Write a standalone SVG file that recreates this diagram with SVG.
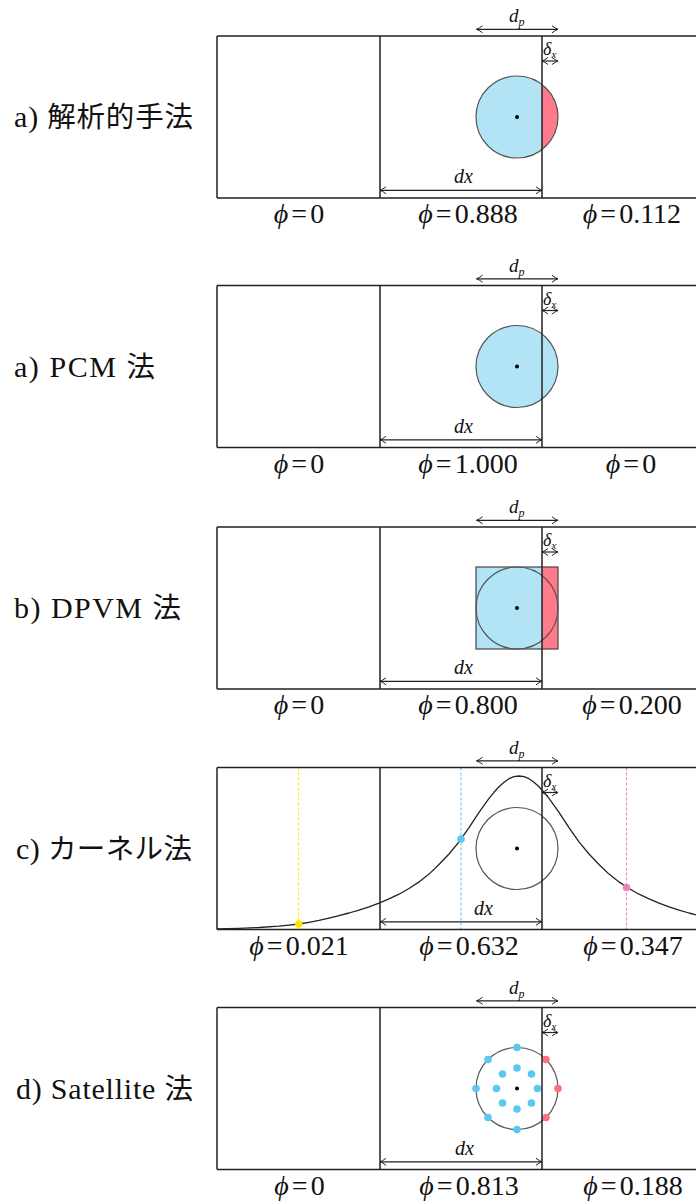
<svg xmlns="http://www.w3.org/2000/svg" width="696" height="1202" viewBox="0 0 696 1202">
<defs>
<style>
.box{fill:none;stroke:#222;stroke-width:1.5}
.circ{fill:none;stroke:#555;stroke-width:1.2}
.dim{fill:none;stroke:#222;stroke-width:1.2;marker-start:url(#ah);marker-end:url(#ah)}
.lbl{font-family:"Liberation Serif","Noto Sans CJK JP",serif;font-size:28.5px;fill:#111}
.lat{font-size:30px}
.phi{font-family:"Liberation Serif","DejaVu Serif",serif;font-size:28px;fill:#111;text-anchor:middle}
.it{font-style:italic}
.math{font-family:"Liberation Serif","DejaVu Serif",serif;font-style:italic;fill:#111}
.dxl{font-size:20px}
.blue{fill:#b2e4f6}
.red{fill:#ff7a8a}
.ctr{fill:#000}
.sb{fill:#5cc8ef}
.sr{fill:#ff6f82}
</style>
<marker id="ah" viewBox="-8 -5 10 10" refX="0" refY="0" markerWidth="10" markerHeight="10" markerUnits="userSpaceOnUse" orient="auto-start-reverse">
<path d="M-6,-3.5 Q-2.5,-0.8 0,0 Q-2.5,0.8 -6,3.5" fill="none" stroke="#222" stroke-width="1"/>
</marker>
<g id="dims">
<line class="dim" x1="476.5" y1="-6.7" x2="558" y2="-6.7"/>
<text class="math" x="509" y="-14" font-size="19">d<tspan font-size="12" dy="4">p</tspan></text>
<line class="dim" x1="542" y1="25" x2="558" y2="25"/>
<text class="math" x="543" y="19" font-size="18">δ<tspan font-size="11" dy="3">x</tspan></text>
</g>
<path id="frame" class="box" d="M217,0 H696 M217,162 H696 M217,0 V162 M380,0 V162 M542,0 V162"/>
</defs>

<!-- a) analytic -->
<g id="panel-analytic" transform="translate(0,36)">
<text class="lbl" x="14" y="91" textLength="179"><tspan class="lat">a) </tspan>解析的手法</text>
<path class="blue" d="M542,48.5 A41,41 0 1 0 542,113.5 Z"/>
<path class="red" d="M542,48.5 A41,41 0 0 1 542,113.5 Z"/>
<circle class="circ" cx="517" cy="81" r="41"/>
<circle class="ctr" cx="517" cy="81" r="2"/>
<use href="#frame"/>
<use href="#dims"/>
<line class="dim" x1="380" y1="154.3" x2="542" y2="154.3"/>
<text class="math dxl" x="454" y="147">dx</text>
<text class="phi" x="299" y="187"><tspan class="it">ϕ</tspan><tspan dx="3">=</tspan><tspan dx="3">0</tspan></text>
<text class="phi" x="468" y="187"><tspan class="it">ϕ</tspan><tspan dx="3">=</tspan><tspan dx="3">0.888</tspan></text>
<text class="phi" x="632" y="187"><tspan class="it">ϕ</tspan><tspan dx="3">=</tspan><tspan dx="3">0.112</tspan></text>
</g>

<!-- a) PCM -->
<g id="panel-pcm" transform="translate(0,285.5)">
<text class="lbl" x="14" y="91" textLength="141"><tspan class="lat">a) PCM </tspan>法</text>
<circle class="blue" cx="517" cy="81" r="41"/>
<circle class="circ" cx="517" cy="81" r="41"/>
<circle class="ctr" cx="517" cy="81" r="2"/>
<use href="#frame"/>
<use href="#dims"/>
<line class="dim" x1="380" y1="154.3" x2="542" y2="154.3"/>
<text class="math dxl" x="454" y="147">dx</text>
<text class="phi" x="299" y="187"><tspan class="it">ϕ</tspan><tspan dx="3">=</tspan><tspan dx="3">0</tspan></text>
<text class="phi" x="468" y="187"><tspan class="it">ϕ</tspan><tspan dx="3">=</tspan><tspan dx="3">1.000</tspan></text>
<text class="phi" x="631" y="187"><tspan class="it">ϕ</tspan><tspan dx="3">=</tspan><tspan dx="3">0</tspan></text>
</g>

<!-- b) DPVM -->
<g id="panel-dpvm" transform="translate(0,527)">
<text class="lbl" x="14" y="91" textLength="167"><tspan class="lat">b) DPVM </tspan>法</text>
<rect class="blue" x="476" y="40" width="66" height="82"/>
<rect class="red" x="542" y="40" width="16" height="82"/>
<rect x="476" y="40" width="82" height="82" fill="none" stroke="#444" stroke-width="1.2"/>
<circle class="circ" cx="517" cy="81" r="41"/>
<circle class="ctr" cx="517" cy="81" r="2"/>
<use href="#frame"/>
<use href="#dims"/>
<line class="dim" x1="380" y1="154.3" x2="542" y2="154.3"/>
<text class="math dxl" x="454" y="147">dx</text>
<text class="phi" x="299" y="187"><tspan class="it">ϕ</tspan><tspan dx="3">=</tspan><tspan dx="3">0</tspan></text>
<text class="phi" x="468" y="187"><tspan class="it">ϕ</tspan><tspan dx="3">=</tspan><tspan dx="3">0.800</tspan></text>
<text class="phi" x="632" y="187"><tspan class="it">ϕ</tspan><tspan dx="3">=</tspan><tspan dx="3">0.200</tspan></text>
</g>

<!-- c) kernel -->
<g id="panel-kernel" transform="translate(0,767.5)">
<text class="lbl" x="16" y="91" textLength="176"><tspan class="lat">c) </tspan>カーネル法</text>
<line x1="298.7" y1="0" x2="298.7" y2="162" stroke="#ffe600" stroke-width="1" stroke-dasharray="3,2"/>
<line x1="461" y1="0" x2="461" y2="162" stroke="#5cc8ef" stroke-width="1" stroke-dasharray="3,2"/>
<line x1="626.5" y1="0" x2="626.5" y2="162" stroke="#f083b5" stroke-width="1" stroke-dasharray="3,2"/>
<polyline fill="none" stroke="#222" stroke-width="1.3" stroke-linejoin="round" points="217,161.3 239,160.8 259,160.0 279,158.7 289,157.7 299,156.5 309,154.8 319,152.9 329,150.6 339,148.1 349,145.5 359,142.6 369,139.3 379,135.6 389,131.3 399,126.7 409,121.0 419,114.4 429,106.6 439,97.0 449,86.5 459,74.3 469,60.1 479,44.8 489,30.9 494,24.8 499,19.2 504,14.8 509,11.2 514,9.2 519,8.5 524,9.2 529,11.2 534,14.8 539,19.2 544,24.8 549,30.9 559,44.8 569,60.1 579,74.3 589,86.5 599,97.0 609,106.6 619,114.4 629,121.0 639,126.7 649,131.3 659,135.6 669,139.3 679,142.6 689,145.5 699,148.1"/>
<circle class="circ" cx="517" cy="81" r="41"/>
<circle class="ctr" cx="517" cy="81" r="2"/>
<circle cx="298.7" cy="156.5" r="3.8" fill="#ffe600"/>
<circle cx="461" cy="71.5" r="3.8" fill="#5cc8ef"/>
<circle cx="626.5" cy="120" r="3.8" fill="#f083b5"/>
<use href="#frame"/>
<use href="#dims"/>
<line class="dim" x1="380" y1="154.3" x2="542" y2="154.3"/>
<text class="math dxl" x="474" y="147">dx</text>
<text class="phi" x="299" y="187"><tspan class="it">ϕ</tspan><tspan dx="3">=</tspan><tspan dx="3">0.021</tspan></text>
<text class="phi" x="469" y="187"><tspan class="it">ϕ</tspan><tspan dx="3">=</tspan><tspan dx="3">0.632</tspan></text>
<text class="phi" x="633" y="187"><tspan class="it">ϕ</tspan><tspan dx="3">=</tspan><tspan dx="3">0.347</tspan></text>
</g>

<!-- d) satellite -->
<g id="panel-satellite" transform="translate(0,1007.5)">
<text class="lbl" x="16" y="91" textLength="177"><tspan class="lat">d) Satellite </tspan>法</text>
<circle class="circ" cx="517" cy="81" r="41"/>
<circle class="ctr" cx="517" cy="81" r="2"/>
<g id="satellites">
<circle class="sb" cx="517" cy="40" r="3.8"/>
<circle class="sb" cx="488" cy="52" r="3.8"/>
<circle class="sb" cx="476" cy="81" r="3.8"/>
<circle class="sb" cx="488" cy="110" r="3.8"/>
<circle class="sb" cx="517" cy="122" r="3.8"/>
<circle class="sr" cx="546" cy="52" r="3.8"/>
<circle class="sr" cx="558" cy="81" r="3.8"/>
<circle class="sr" cx="546" cy="110" r="3.8"/>
<circle class="sb" cx="517" cy="60.5" r="3.8"/>
<circle class="sb" cx="502.5" cy="66.5" r="3.8"/>
<circle class="sb" cx="531.5" cy="66.5" r="3.8"/>
<circle class="sb" cx="496.5" cy="81" r="3.8"/>
<circle class="sb" cx="537.5" cy="81" r="3.8"/>
<circle class="sb" cx="502.5" cy="95.5" r="3.8"/>
<circle class="sb" cx="531.5" cy="95.5" r="3.8"/>
<circle class="sb" cx="517" cy="101.5" r="3.8"/>
</g>
<use href="#frame"/>
<use href="#dims"/>
<line class="dim" x1="380" y1="154.3" x2="542" y2="154.3"/>
<text class="math dxl" x="455" y="147">dx</text>
<text class="phi" x="299.5" y="187"><tspan class="it">ϕ</tspan><tspan dx="3">=</tspan><tspan dx="3">0</tspan></text>
<text class="phi" x="469" y="187"><tspan class="it">ϕ</tspan><tspan dx="3">=</tspan><tspan dx="3">0.813</tspan></text>
<text class="phi" x="633" y="187"><tspan class="it">ϕ</tspan><tspan dx="3">=</tspan><tspan dx="3">0.188</tspan></text>
</g>
</svg>
